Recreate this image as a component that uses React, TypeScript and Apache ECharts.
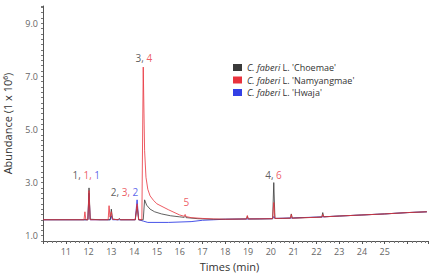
import React, { useEffect, useRef } from "react";
import * as echarts from "echarts";

const seriesNames = ["C. faberi L. 'Choemae'", "C. faberi L. 'Namyangmae'", "C. faberi L. 'Hwaja'"];
const seriesColors = ["#3a3a3a", "#e8323c", "#3340e6"];

const choemae: number[][] = [
  [10, 1.6], [11.0, 1.6], [11.8, 1.6], [11.97, 1.6], [12.02, 2.8], [12.07, 1.62], [12.5, 1.6],
  [12.95, 1.6], [13.0, 2.0], [13.05, 1.65], [13.1, 1.62], [13.3, 1.6], [13.35, 1.65], [13.4, 1.6],
  [14.05, 1.6], [14.13, 2.1], [14.2, 1.6], [14.4, 1.6], [14.46, 2.35], [14.55, 2.15], [14.7, 2.0],
  [14.9, 1.9], [15.2, 1.82], [15.6, 1.75], [16.0, 1.71], [16.2, 1.69], [16.24, 1.73], [16.28, 1.68],
  [16.8, 1.64], [17.5, 1.62], [18.0, 1.62], [18.93, 1.63], [18.97, 1.73], [19.01, 1.63], [19.5, 1.63],
  [20.08, 1.64], [20.13, 3.0], [20.18, 1.65], [20.5, 1.65], [20.86, 1.66], [20.9, 1.82], [20.94, 1.66],
  [21.5, 1.68], [22.24, 1.7], [22.28, 1.87], [22.32, 1.71], [23, 1.74], [24, 1.78], [25, 1.82],
  [26, 1.87], [26.85, 1.9],
];

const namyangmae: number[][] = [
  [10, 1.6], [11.0, 1.6], [11.8, 1.6], [11.84, 1.9], [11.88, 1.6], [11.97, 1.6], [12.02, 2.7],
  [12.07, 1.6], [12.5, 1.6], [12.86, 1.6], [12.9, 2.13], [12.94, 1.7], [13.0, 1.9], [13.05, 1.62],
  [13.3, 1.6], [13.35, 1.64], [13.4, 1.6], [14.05, 1.6], [14.13, 2.2], [14.2, 1.6], [14.34, 1.6],
  [14.4, 7.35], [14.46, 4.2], [14.52, 3.2], [14.6, 2.75], [14.7, 2.5], [14.85, 2.33], [15.0, 2.2],
  [15.5, 1.98], [16.0, 1.78], [16.2, 1.73], [16.24, 1.8], [16.28, 1.72], [16.5, 1.68], [17.0, 1.65],
  [17.5, 1.63], [18.0, 1.62], [18.93, 1.63], [18.97, 1.76], [19.01, 1.63], [20.08, 1.64], [20.13, 2.25],
  [20.18, 1.65], [20.86, 1.66], [20.9, 1.8], [20.94, 1.66], [22.24, 1.7], [22.28, 1.8], [22.32, 1.71],
  [23, 1.74], [24, 1.78], [25, 1.82], [26, 1.87], [26.85, 1.9],
];

const hwaja: number[][] = [
  [10, 1.6], [11.97, 1.6], [12.02, 2.6], [12.07, 1.6], [12.95, 1.6], [13.0, 1.75], [13.05, 1.6],
  [14.05, 1.6], [14.13, 2.35], [14.2, 1.6], [14.4, 1.55], [14.6, 1.5], [15.5, 1.5], [16.5, 1.53],
  [17.0, 1.58], [17.5, 1.6], [18.0, 1.62], [20.08, 1.64], [20.13, 1.72], [20.18, 1.65], [21, 1.67],
  [22, 1.7], [23, 1.74], [24, 1.78], [25, 1.82], [26, 1.87], [26.85, 1.9],
];

const peakLabelTimes = [11.9, 13.58, 14.43, 16.29, 20.12];
const peakLabelValues = [3.3, 2.66, 7.68, 2.25, 3.3];
const peakLabelParts: string[][][] = [
  [["1, ", "k"], ["1, ", "r"], ["1", "b"]],
  [["2, ", "k"], ["3, ", "r"], ["2", "b"]],
  [["3, ", "k"], ["4", "r"]],
  [["5", "r"]],
  [["4, ", "k"], ["6", "r"]],
];

const yLabelValues = [1, 3, 5, 7, 9];

const FONT = "Open Sans";

export default function App() {
  const ref = useRef<HTMLDivElement>(null);
  useEffect(() => {
    if (!ref.current) return;
    const chart = echarts.init(ref.current, null, { renderer: "svg" });
    const lineSeries = [
      { name: seriesNames[2], data: hwaja, color: seriesColors[2], z: 2, opacity: 0.9 },
      { name: seriesNames[0], data: choemae, color: seriesColors[0], z: 3, opacity: 0.8 },
      { name: seriesNames[1], data: namyangmae, color: seriesColors[1], z: 4, opacity: 0.8 },
    ].map((s) => ({
      type: "line",
      name: s.name,
      data: s.data,
      z: s.z,
      showSymbol: false,
      symbol: "none",
      itemStyle: { color: s.color },
      lineStyle: { color: s.color, width: 1, opacity: s.opacity },
    }));
    chart.setOption({
      animation: false,
      grid: { left: 43, right: 5, top: 6, bottom: 34, outerBoundsMode: "none", containLabel: false },
      legend: {
        data: [seriesNames[0], seriesNames[1], seriesNames[2]],
        orient: "vertical",
        left: 228,
        top: 57,
        icon: "rect",
        itemWidth: 9,
        itemHeight: 7,
        itemGap: 1.5,
        textStyle: {
          fontFamily: FONT,
          fontSize: 9,
          color: "#333",
          lineHeight: 11,
          rich: { i: { fontStyle: "italic", fontFamily: FONT, fontSize: 9, color: "#333" } },
        },
        formatter: (name: string) => "{i|C. faberi}" + name.slice(9),
      },
      xAxis: {
        type: "value",
        min: 10,
        max: 26.9,
        interval: 1,
        name: "Times (min)",
        nameLocation: "middle",
        nameGap: 20,
        nameTextStyle: { fontFamily: FONT, fontSize: 11, color: "#333", padding: [0, 12, 0, 0] },
        axisLine: { lineStyle: { color: "#555", width: 1 } },
        axisTick: { show: true, length: 3, lineStyle: { color: "#555" } },
        minorTick: { show: true, splitNumber: 5, length: 2, lineStyle: { color: "#777" } },
        splitLine: { show: false },
        axisLabel: {
          fontFamily: FONT,
          fontSize: 9,
          color: "#666",
          margin: 6,
          formatter: (v: number) => (v >= 11 && v <= 25 ? String(v) : ""),
        },
      },
      yAxis: {
        type: "value",
        min: 0.8,
        max: 9.65,
        interval: 0.2,
        name: "Abundance (1 x 10⁶)",
        nameLocation: "middle",
        nameRotate: 90,
        nameGap: 30,
        nameTextStyle: { fontFamily: FONT, fontSize: 11, color: "#333" },
        axisLine: { show: true, lineStyle: { color: "#555", width: 1 } },
        axisTick: { show: true, length: 2, lineStyle: { color: "#777" } },
        splitLine: { show: false },
        axisLabel: {
          fontFamily: FONT,
          fontSize: 9,
          color: "#666",
          margin: 5,
          formatter: (v: number) =>
            yLabelValues.some((y) => Math.abs(y - v) < 1e-6) ? v.toFixed(1) : "",
        },
      },
      series: [
        ...lineSeries,
        {
          type: "scatter",
          name: "labels",
          symbolSize: 0,
          z: 10,
          data: peakLabelTimes.map((t, i) => [t, peakLabelValues[i]]),
          label: {
            show: true,
            position: "inside",
            color: "#333",
            fontFamily: FONT,
            fontSize: 10,
            formatter: (p: any) =>
              peakLabelParts[p.dataIndex].map(([txt, c]) => `{${c}|${txt}}`).join(""),
            rich: {
              k: { color: "#333333", fontFamily: FONT, fontSize: 10 },
              r: { color: "#e8323c", fontFamily: FONT, fontSize: 10 },
              b: { color: "#3340e6", fontFamily: FONT, fontSize: 10 },
            },
          },
        },
      ],
    });
    return () => chart.dispose();
  }, []);
  return <div ref={ref} style={{ width: 433, height: 275, position: "absolute", left: 0, top: 0 }} />;
}
